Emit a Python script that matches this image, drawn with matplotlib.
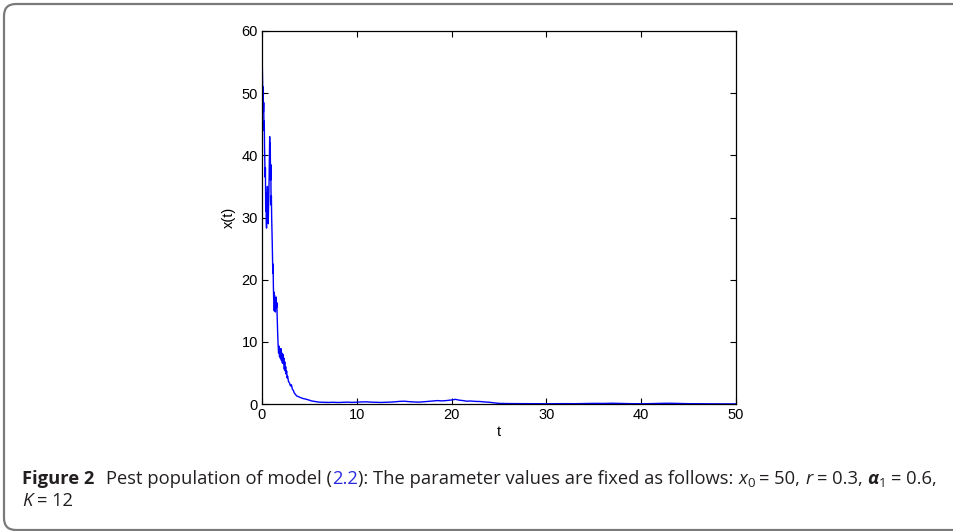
import matplotlib
matplotlib.use("Agg")
import matplotlib.pyplot as plt
from matplotlib.patches import FancyBboxPatch
from matplotlib import font_manager

# ---------------- data ----------------
t_early = [0, 0.03, 0.06, 0.09, 0.12, 0.15, 0.18, 0.21, 0.24, 0.27, 0.30, 0.33,
           0.36, 0.39, 0.42, 0.45, 0.48, 0.51, 0.54, 0.57, 0.60, 0.63, 0.66,
           0.69, 0.72, 0.75, 0.78, 0.81, 0.84, 0.87, 0.90, 0.93, 0.96, 0.99,
           1.02, 1.05, 1.08, 1.11, 1.14, 1.17, 1.20, 1.23, 1.26, 1.29, 1.32,
           1.35, 1.38, 1.41, 1.44, 1.47, 1.50, 1.53, 1.56, 1.59, 1.62, 1.65,
           1.70, 1.75, 1.80, 1.85, 1.90, 1.95, 2.00, 2.05, 2.10, 2.15, 2.20,
           2.25, 2.30, 2.35, 2.40, 2.45, 2.50, 2.55, 2.60, 2.65, 2.70, 2.80,
           2.90, 3.00, 3.10, 3.20, 3.30, 3.40, 3.50, 3.65, 3.80, 4.00, 4.20,
           4.40, 4.60, 4.80, 5.00, 5.20, 5.40, 5.70, 6.00]
x_early = [50, 54.5, 52, 49.5, 51, 47, 48.5, 44, 45.5, 41, 39, 36.5,
           38, 31, 34, 29.5, 28.3, 33, 31, 35, 30, 33.5, 29,
           31.5, 33, 36, 38, 43, 40, 42, 36, 38.5, 32, 33.5,
           30, 28, 26, 23, 21, 22.5, 19, 17, 18, 15, 17.5,
           15.8, 16.5, 14.8, 17, 16, 17.2, 15.5, 16.3, 14.5, 13, 11.5,
           9.5, 8.2, 9.3, 7.6, 8.8, 7.3, 8.9, 7.0, 8.2, 6.6, 8.0,
           6.5, 7.4, 5.6, 6.8, 5.3, 6.0, 4.8, 5.3, 4.2, 4.5, 3.6,
           3.4, 2.9, 3.1, 2.4, 2.2, 1.8, 1.6, 1.3, 1.2, 1.05, 0.95,
           0.85, 0.8, 0.7, 0.62, 0.5, 0.45, 0.38, 0.3]

t_late = [6.5, 7, 7.5, 8, 8.5, 9, 9.5, 10, 10.5, 11, 11.5, 12, 12.5, 13, 13.5,
          14, 14.5, 15, 15.5, 16, 16.5, 17, 17.5, 18, 18.5, 19, 19.5, 20,
          20.4, 20.8, 21.2, 21.6, 22, 22.5, 23, 23.5, 24, 24.5, 25, 26, 27,
          28, 29, 30, 31, 32, 33, 34, 35, 36, 37, 38, 39, 40, 41, 42, 43, 44,
          45, 46, 47, 48, 49, 50]
x_late = [0.27, 0.25, 0.28, 0.24, 0.27, 0.3, 0.26, 0.3, 0.33, 0.35, 0.3, 0.28,
          0.25, 0.27, 0.3, 0.35, 0.42, 0.45, 0.38, 0.33, 0.3, 0.35, 0.42, 0.5,
          0.55, 0.5, 0.56, 0.65, 0.75, 0.62, 0.55, 0.45, 0.48, 0.42, 0.4, 0.33,
          0.28, 0.18, 0.1, 0.07, 0.06, 0.05, 0.05, 0.04, 0.05, 0.06, 0.05,
          0.08, 0.1, 0.09, 0.12, 0.08, 0.05, 0.04, 0.06, 0.1, 0.12, 0.08, 0.05,
          0.04, 0.03, 0.03, 0.02, 0.02]

x_ticks = [0, 10, 20, 30, 40, 50]
y_ticks = [0, 10, 20, 30, 40, 50, 60]

# ---------------- figure ----------------
W, H = 954, 531
fig = plt.figure(figsize=(W / 100, H / 100), dpi=100)

# rounded frame around figure + caption (open on the right)
top_px, bot_px = 4, 530
frame = FancyBboxPatch((4 / W, 1 - bot_px / H), 1.2, (bot_px - top_px) / H,
                       boxstyle="round,pad=0,rounding_size=%f" % (12 / W),
                       transform=fig.transFigure, fill=False,
                       edgecolor="#7a7a7a", linewidth=1.6, mutation_aspect=W / H)
fig.patches.append(frame)

ax = fig.add_axes([262 / W, 1 - 404 / H, (736 - 262) / W, (404 - 31) / H])
ax.plot(t_early + t_late, x_early + x_late, color="#0000ff", linewidth=1.0)
ax.set_xlim(0, 50)
ax.set_ylim(0, 60)
ax.set_xticks(x_ticks)
ax.set_yticks(y_ticks)
tick_font = "Liberation Sans"
ax.tick_params(direction="in", top=True, right=True, length=4, width=0.8,
               labelsize=10.5, pad=3)
for lab in ax.get_xticklabels() + ax.get_yticklabels():
    lab.set_fontfamily(tick_font)
for s in ax.spines.values():
    s.set_linewidth(0.9)
ax.set_xlabel("t", fontsize=10.5, fontfamily=tick_font, labelpad=2)
ax.set_ylabel("x(t)", fontsize=10.5, fontfamily=tick_font, labelpad=4)

# ---------------- caption ----------------
names = {f.name for f in font_manager.fontManager.ttflist}
cap_family = "Liberation Sans Narrow" if "Liberation Sans Narrow" in names else "Open Sans"
cap_size = 13.2
renderer = fig.canvas.get_renderer()
dark = "#231f20"
blue = "#2a2ae0"

def put(x_px, base_px, s, size=cap_size, weight="normal", style="normal",
        color=dark, dy=0.0):
    txt = fig.text(x_px / W, 1 - (base_px + dy) / H, s, fontsize=size,
                   fontweight=weight, fontstyle=style, color=color,
                   family=[cap_family, "DejaVu Sans"], va="baseline", ha="left")
    bb = txt.get_window_extent(renderer)
    return x_px + bb.width

def space(size=cap_size):
    a = fig.text(0, 0, "a a", fontsize=size, family=[cap_family])
    b = fig.text(0, 0, "aa", fontsize=size, family=[cap_family])
    w = a.get_window_extent(renderer).width - b.get_window_extent(renderer).width
    a.remove(); b.remove()
    return w

sp = space()
sub = cap_size * 0.72
y1, y2 = 484, 506
x = 22
x = put(x, y1, "Figure 2", weight="bold")
x += 2.5 * sp
x = put(x, y1, "Pest population of model (")
x = put(x, y1, "2.2", color=blue)
x = put(x, y1, "): The parameter values are fixed as follows:")
x += sp
x = put(x, y1, "x", style="italic")
x = put(x, y1, "0", size=sub, dy=3)
x += sp
x = put(x, y1, "= 50,")
x += sp
x = put(x, y1, "r", style="italic")
x += sp
x = put(x, y1, "= 0.3,")
x += sp
x = put(x, y1, "\u03b1", style="italic", weight="bold")
x = put(x, y1, "1", size=sub, dy=3)
x += sp
x = put(x, y1, "= 0.6,")

x = 22
x = put(x, y2, "K", style="italic")
x += sp
x = put(x, y2, "= 12")

fig.savefig("out.png", dpi=100)
